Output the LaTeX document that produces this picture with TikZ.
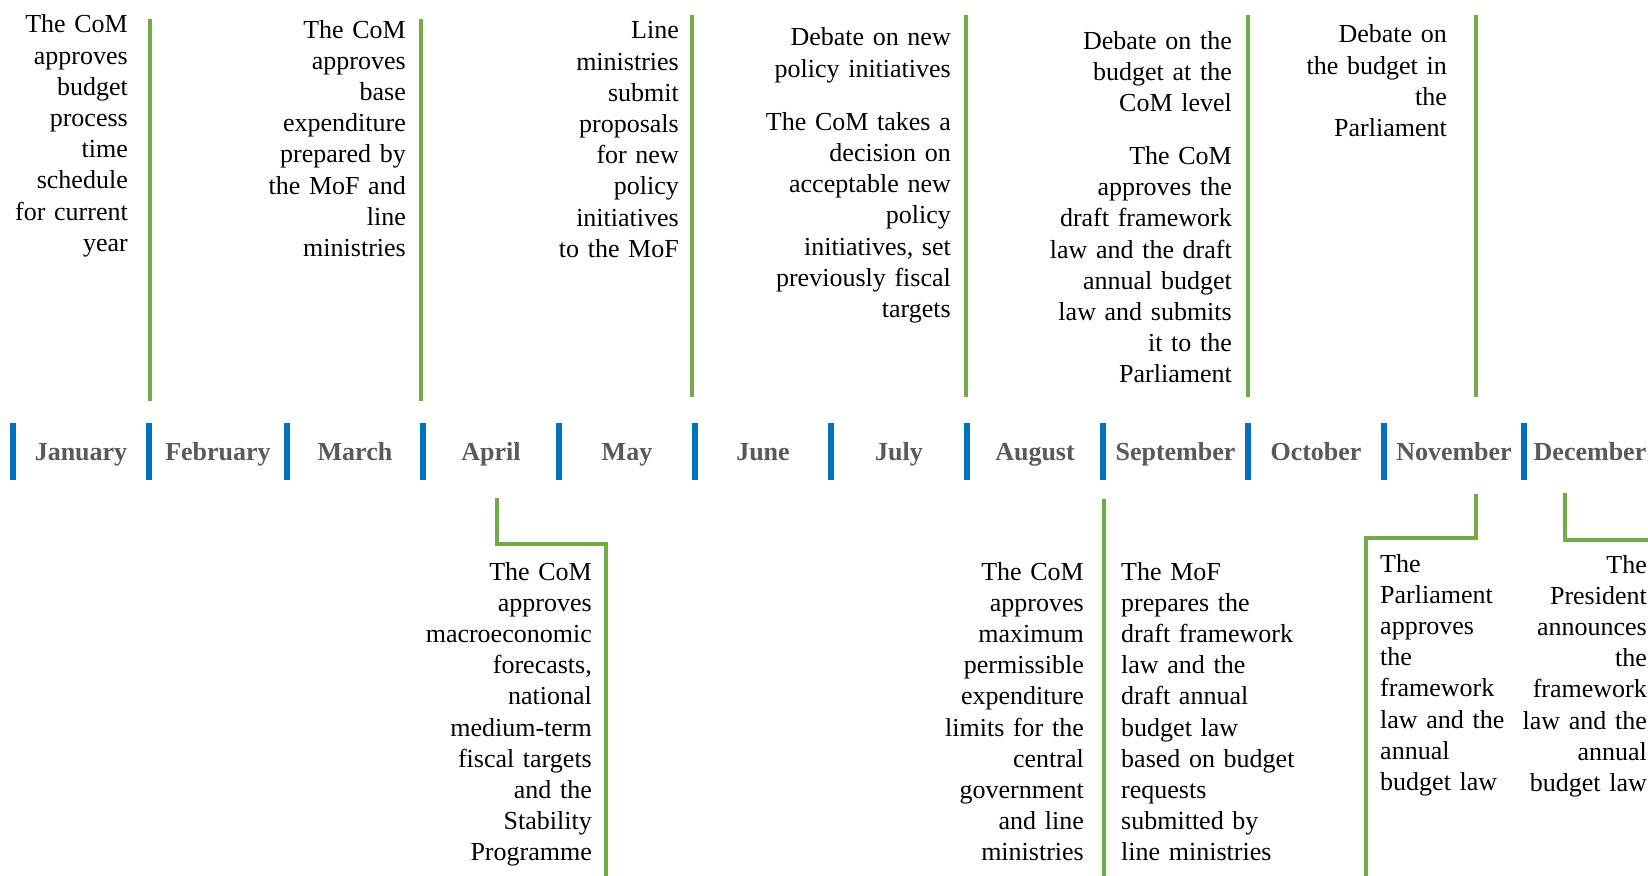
\documentclass[tikz,border=0pt]{standalone}
\usepackage{fontspec}
\setmainfont{Liberation Serif}
\definecolor{tlgreen}{HTML}{70AD47}
\definecolor{tlblue}{HTML}{0070C0}
\definecolor{tlgray}{HTML}{595959}
\begin{document}
\begin{tikzpicture}[x=1pt,y=-1pt,
  gline/.style={draw=tlgreen,line width=4.5pt},
  monthtick/.style={draw=tlblue,line width=5.5pt},
  month/.style={font=\fontsize{26}{31.2}\selectfont\bfseries,text=tlgray,inner sep=0pt,anchor=base},
  rtext/.style={font=\fontsize{26}{31.2}\selectfont,inner sep=0pt,text width=300pt,align=right,anchor=base east},
  ltext/.style={font=\fontsize{26}{31.2}\selectfont,inner sep=0pt,text width=300pt,align=left,anchor=base west}]
\path[use as bounding box,clip] (0,0) rectangle (1648,875);
\fill[white] (0,0) rectangle (1648,875);

% month ticks
\foreach \i/\x in {1/13,2/149,3/287,4/423,5/559,6/695,7/831,8/967,9/1103,10/1248,11/1384,12/1524}{
  \coordinate (t\i a) at (\x,423);
  \coordinate (t\i b) at (\x,480);
  \draw[monthtick] (t\i a) -- (t\i b);
}
% month labels
\node[month] (m1) at (81,460) {January};
\node[month] (m2) at (218,460) {February};
\node[month] (m3) at (355,460) {March};
\node[month] (m4) at (491,460) {April};
\node[month] (m5) at (627,460) {May};
\node[month] (m6) at (763,460) {June};
\node[month] (m7) at (899,460) {July};
\node[month] (m8) at (1035,460) {August};
\node[month] (m9) at (1175.5,460) {September};
\node[month] (m10) at (1316,460) {October};
\node[month] (m11) at (1454,460) {November};
\node[month] (m12) at (1590,460) {December};

% top green lines
\foreach \i/\x/\ya/\yb in {1/150/19/401,2/421/19/401,3/692/15/397,4/966/15/397,5/1248/15/397,6/1476/15/397}{
  \coordinate (g\i a) at (\x,\ya);
  \coordinate (g\i b) at (\x,\yb);
  \draw[gline] (g\i a) -- (g\i b);
}

% top texts
\node[rtext] (T1) at (128,33) {The CoM\\approves\\budget\\process\\time\\schedule\\for current\\year};
\node[rtext] (T2) at (406,38) {The CoM\\approves\\base\\expenditure\\prepared by\\the MoF and\\line\\ministries};
\node[rtext] (T3) at (679,39) {Line\\ministries\\submit\\proposals\\for new\\policy\\initiatives\\to the MoF};
\node[rtext] (T4) at (951,46) {Debate on new\\policy initiatives\\[21.8pt]The CoM takes a\\decision on\\acceptable new\\policy\\initiatives, set\\previously fiscal\\targets};
\node[rtext] (T5) at (1232,49) {Debate on the\\budget at the\\CoM level\\[21.8pt]The CoM\\approves the\\draft framework\\law and the draft\\annual budget\\law and submits\\it to the\\Parliament};
\node[rtext] (T6) at (1447,43) {Debate on\\the budget in\\the\\Parliament};

% bottom connectors
\coordinate (a1) at (497,498);
\coordinate (a2) at (497,544);
\coordinate (a3) at (606,544);
\coordinate (a4) at (606,885);
\draw[gline] (a1) -- (a2) -- (a3) -- (a4);
\coordinate (s1) at (1104,499);
\coordinate (s2) at (1104,885);
\draw[gline] (s1) -- (s2);
\coordinate (n1) at (1476,494);
\coordinate (n2) at (1476,538);
\coordinate (n3) at (1366,538);
\coordinate (n4) at (1366,885);
\draw[gline] (n1) -- (n2) -- (n3) -- (n4);
\coordinate (d1) at (1565,493);
\coordinate (d2) at (1565,540);
\coordinate (d3) at (1670,540);
\draw[gline] (d1) -- (d2) -- (d3);

% bottom texts
\node[rtext] (B1) at (592,580) {The CoM\\approves\\macroeconomic\\forecasts,\\national\\medium-term\\fiscal targets\\and the\\Stability\\Programme};
\node[rtext] (B2) at (1084,580) {The CoM\\approves\\maximum\\permissible\\expenditure\\limits for the\\central\\government\\and line\\ministries};
\node[ltext] (B3) at (1121,580) {The MoF\\prepares the\\draft framework\\law and the\\draft annual\\budget law\\based on budget\\requests\\submitted by\\line ministries};
\node[ltext] (B4) at (1380,572) {The\\Parliament\\approves\\the\\framework\\law and the\\annual\\budget law};
\node[rtext] (B5) at (1647,573) {The\\President\\announces\\the\\framework\\law and the\\annual\\budget law};
\end{tikzpicture}
\end{document}
